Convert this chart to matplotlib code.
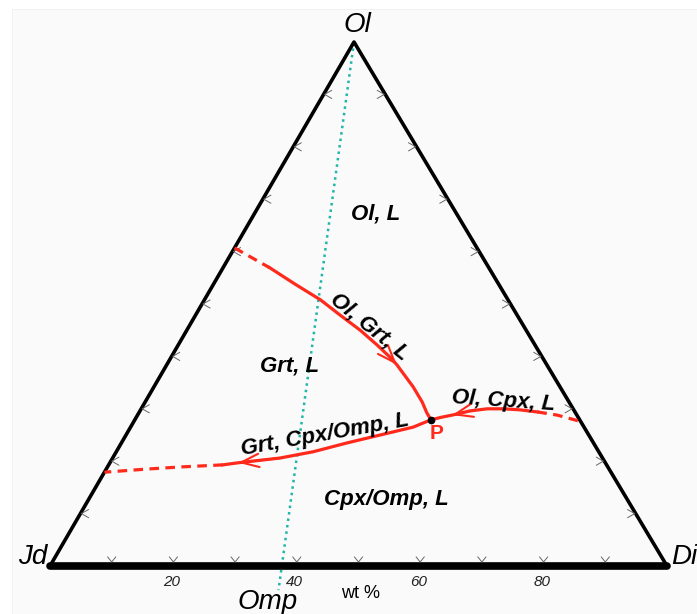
import matplotlib
matplotlib.use("Agg")
import matplotlib.pyplot as plt
from matplotlib.patches import Rectangle

plt.rcParams['font.family'] = ['Liberation Sans', 'DejaVu Sans']

# ---------------- data (wt %: Di, Ol ; Jd = 100 - Di - Ol) ----------------
# Ol-Grt-L cotectic, from the Jd-Ol side down to P
olgrt_di = [0.0, 7.6, 13.2, 18.8, 23.4, 28.1, 32.2, 35.4, 37.3, 42.0, 44.9, 46.7, 48.0]
olgrt_ol = [60.7, 56.9, 53.8, 50.8, 47.9, 45.0, 42.2, 39.9, 38.4, 34.2, 31.3, 29.2, 27.9]
olgrt_dash = 1          # dashed up to this index
olgrt_arrow = 8         # arrow tip index

# Grt-Cpx/Omp-L cotectic, from P to the Jd-Ol side
grtcpx_di = [48.0, 45.8, 41.2, 36.6, 31.9, 27.1, 20.8, 18.5, 11.8, 6.6, 0.0]
grtcpx_ol = [27.9, 26.5, 25.0, 23.5, 21.8, 20.6, 19.7, 19.3, 18.9, 18.5, 17.9]
grtcpx_dash = 7         # dashed from this index
grtcpx_arrow = 6

# Ol-Cpx-L cotectic, from P to the Di-Ol side
olcpx_di = [48.0, 49.5, 51.0, 53.5, 56.1, 58.7, 61.5, 64.5, 68.0, 72.7]
olcpx_ol = [27.9, 28.4, 28.8, 29.6, 30.0, 30.0, 29.8, 29.4, 28.8, 27.5]
olcpx_dash = 7          # dashed from this index
olcpx_arrow = 2         # arrow points back toward P

# Ol - Omp join
omp_di = [0.0, 39.3]
omp_ol = [100.0, -4.6]

point_P = (48.0, 27.9)
tick_vals = [10, 20, 30, 40, 50, 60, 70, 80, 90]
tick_labels = [20, 40, 60, 80]

# vertex positions on the page (pixels)
JD = (50.0, 566.0)
DI = (667.0, 566.0)
OL = (354.0, 42.0)


def tern(di, ol):
    di = di / 100.0
    ol = ol / 100.0
    jd = 1.0 - di - ol
    x = jd * JD[0] + di * DI[0] + ol * OL[0]
    y = jd * JD[1] + di * DI[1] + ol * OL[1]
    return x, y


def conv(dis, ols):
    pts = [tern(a, b) for a, b in zip(dis, ols)]
    return [p[0] for p in pts], [p[1] for p in pts]


fig = plt.figure(figsize=(6.97, 6.14), dpi=100)
ax = fig.add_axes([0, 0, 1, 1])
ax.set_xlim(0, 697)
ax.set_ylim(614, 0)
ax.axis('off')
ax.add_patch(Rectangle((12, 9), 690, 610, facecolor='#fafafa', edgecolor='#f0f0f0', lw=0.6, zorder=0))

red = '#ff2a1c'
lw_red = 2.3
dash = (0, (3, 2))
arrow_kw = dict(arrowstyle='->,head_length=0.8,head_width=0.3', color=red, lw=1.5,
                mutation_scale=16, shrinkA=0, shrinkB=0)

# Omp join (dotted teal)
ox, oy = conv(omp_di, omp_ol)
ax.plot(ox, oy, color='#1fb5a8', lw=1.8, ls=(0, (1, 1.6)), zorder=2)

# triangle
ax.plot([JD[0], OL[0], DI[0]], [JD[1], OL[1], DI[1]], color='black', lw=2.6, solid_capstyle='round', zorder=3)
ax.plot([JD[0], DI[0]], [JD[1], DI[1]], color='black', lw=5.5, solid_capstyle='round', zorder=3)

# chevron ticks
tc = '#666666'
for v in tick_vals:
    x, y = tern(v, 0)
    ax.plot([x - 4, x, x + 4], [y - 9, y - 4, y - 9], color=tc, lw=0.7, zorder=4)
    x, y = tern(0, v)
    ax.plot([x + 8, x + 1, x + 8], [y - 4, y, y + 4], color=tc, lw=0.7, zorder=4)
    x, y = tern(100 - v, v)
    ax.plot([x - 8, x - 1, x - 8], [y - 4, y, y + 4], color=tc, lw=0.7, zorder=4)

for v in tick_labels:
    x, y = tern(v, 0)
    ax.text(x - 2, y + 16, str(v), ha='center', va='center', fontsize=11, style='italic', color='#222222')

# Ol-Grt-L
xs, ys = conv(olgrt_di, olgrt_ol)
ax.plot(xs[:olgrt_dash + 1], ys[:olgrt_dash + 1], color=red, lw=lw_red, ls=dash, zorder=5)
ax.plot(xs[olgrt_dash:], ys[olgrt_dash:], color=red, lw=lw_red, zorder=5)
ax.annotate('', xy=(xs[olgrt_arrow], ys[olgrt_arrow]), xytext=(xs[olgrt_arrow - 1], ys[olgrt_arrow - 1]),
            arrowprops=arrow_kw, zorder=6)

# Grt-Cpx/Omp-L
xs, ys = conv(grtcpx_di, grtcpx_ol)
ax.plot(xs[:grtcpx_dash + 1], ys[:grtcpx_dash + 1], color=red, lw=lw_red, zorder=5)
ax.plot(xs[grtcpx_dash:], ys[grtcpx_dash:], color=red, lw=lw_red, ls=dash, zorder=5)
ax.annotate('', xy=(xs[grtcpx_arrow], ys[grtcpx_arrow]), xytext=(xs[grtcpx_arrow - 1], ys[grtcpx_arrow - 1]),
            arrowprops=arrow_kw, zorder=6)

# Ol-Cpx-L
xs, ys = conv(olcpx_di, olcpx_ol)
ax.plot(xs[:olcpx_dash + 1], ys[:olcpx_dash + 1], color=red, lw=lw_red, zorder=5)
ax.plot(xs[olcpx_dash:], ys[olcpx_dash:], color=red, lw=lw_red, ls=dash, zorder=5)
ax.annotate('', xy=(xs[olcpx_arrow], ys[olcpx_arrow]), xytext=(xs[olcpx_arrow + 1], ys[olcpx_arrow + 1]),
            arrowprops=arrow_kw, zorder=6)

px, py = tern(*point_P)
ax.plot(px, py, 'o', color='black', ms=4.5, zorder=7)
ax.text(px + 6, py + 14, 'P', color=red, fontsize=15, fontweight='bold', ha='center', va='center', zorder=7)

# vertex labels
ax.text(47, 557, 'Jd', ha='right', va='center', fontsize=20, style='italic')
ax.text(671, 557, 'Di', ha='left', va='center', fontsize=20, style='italic')
ax.text(357, 25, 'Ol', ha='center', va='center', fontsize=20, style='italic')
ax.text(268, 602, 'Omp', ha='center', va='center', fontsize=20, style='italic')
ax.text(361, 593, 'wt %', ha='center', va='center', fontsize=13)

# field and cotectic labels
lab = dict(fontsize=16, fontweight='bold', style='italic', ha='center', va='center', zorder=8)
ax.text(376, 214, 'Ol, L', **lab)
ax.text(290, 366, 'Grt, L', **lab)
ax.text(386, 500, 'Cpx/Omp, L', **lab)
ax.text(369, 327, 'Ol, Grt, L', rotation=-39, rotation_mode='anchor', **lab)
ax.text(325, 435, 'Grt, Cpx/Omp, L', rotation=10, rotation_mode='anchor', **lab)
ax.text(503, 401, 'Ol, Cpx, L', rotation=-4, rotation_mode='anchor', **lab)

fig.savefig('out.png', dpi=100)
